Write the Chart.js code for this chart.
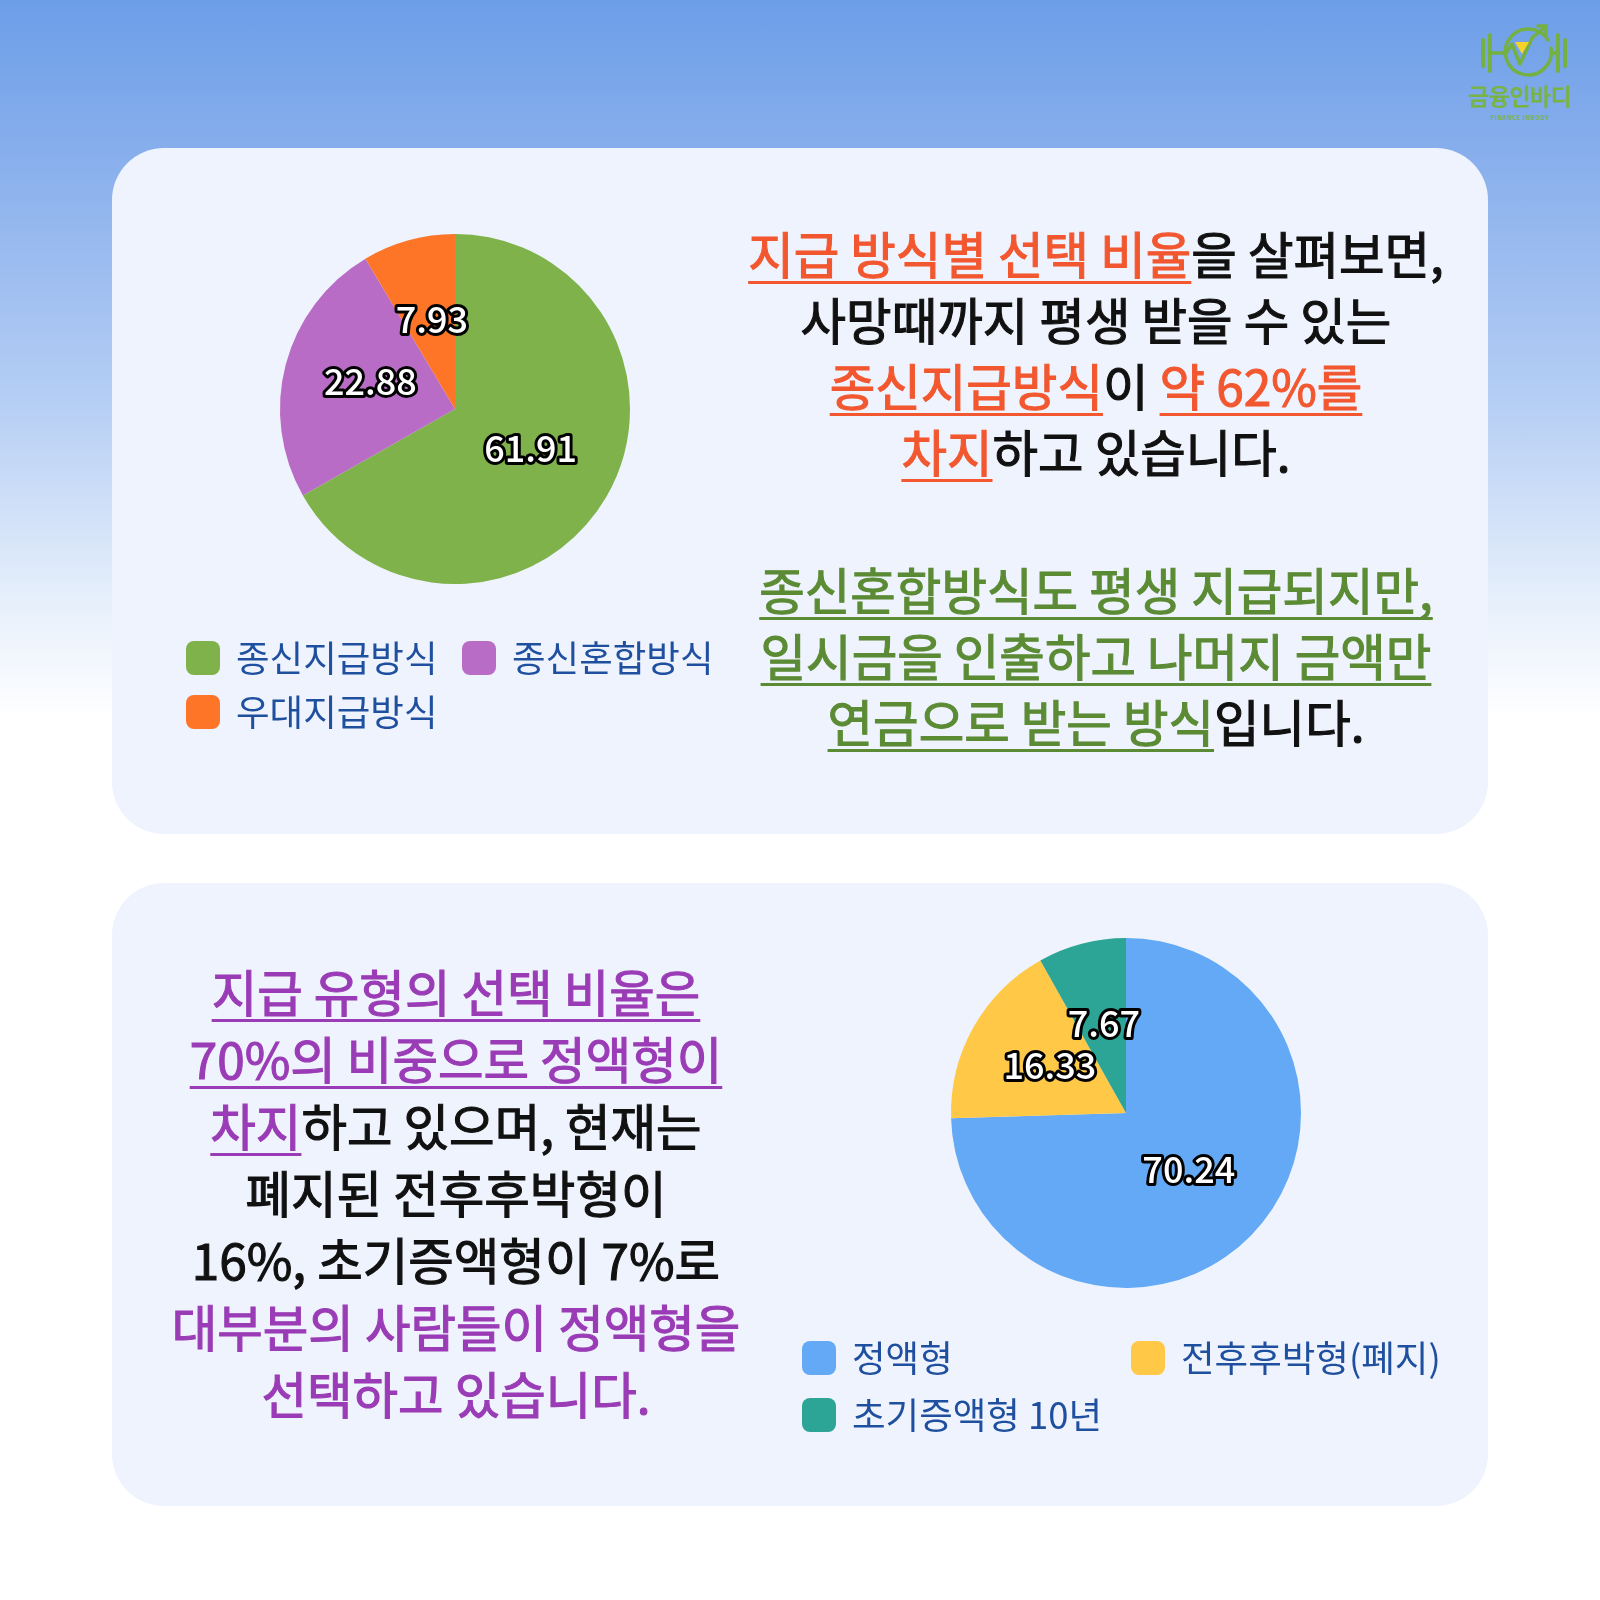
<!DOCTYPE html>
<html><head><meta charset="utf-8">
<script src="https://cdn.jsdelivr.net/npm/chart.js@4.4.1/dist/chart.umd.min.js"></script>
<style>
html,body{margin:0;padding:0;}
body{width:1600px;height:1600px;position:relative;overflow:hidden;
 background:linear-gradient(180deg,#6c9ee8 0px,#87aeec 150px,#b5cef4 400px,#e6effb 600px,#ffffff 720px,#ffffff 1600px);
 font-family:"Noto Sans CJK KR","Noto Sans",sans-serif;}
.card{position:absolute;left:112px;width:1376px;background:#eef3fd;border-radius:52px;}
.txt{position:absolute;text-align:center;font-size:49.5px;line-height:66px;color:#111;white-space:nowrap;font-weight:400;-webkit-text-stroke:1.1px currentColor;transform:translateX(-50%);}
.u{text-decoration:underline;text-decoration-thickness:3px;text-underline-offset:7px;text-decoration-skip-ink:none;}
.or{color:#f2572f}.gr{color:#5b8b34}.pu{color:#9a3cb6}
canvas{position:absolute;}
#logo{position:absolute;left:1460px;top:18px;width:120px;height:110px;}
#logo .n{position:absolute;left:0;top:64px;width:120px;text-align:center;font-size:23px;font-weight:700;color:#78b346;letter-spacing:-0.5px;line-height:26px}
#logo .e{position:absolute;left:0;top:96px;width:120px;text-align:center;font-size:6px;font-weight:700;color:#78b346;letter-spacing:0.6px;line-height:8px}
</style></head>
<body>
<div id="logo">
<svg width="120" height="62" viewBox="0 0 120 62" style="position:absolute;left:0;top:0">
 <g stroke="#74b042" stroke-linecap="round" fill="none">
  <line x1="23" y1="22" x2="23" y2="48" stroke-width="4"/>
  <line x1="30" y1="17" x2="30" y2="53" stroke-width="4"/>
  <line x1="98" y1="17" x2="98" y2="53" stroke-width="4"/>
  <line x1="105" y1="22" x2="105" y2="48" stroke-width="4"/>
  <path d="M88 22 A23 23 0 1 0 91 30" stroke-width="3.5"/>
  <polyline points="30,35 46,35 52,26 60,46 72,20 86,8" stroke-width="3.5" stroke-linejoin="round"/>
  <polyline points="78,8 86,8 86,16" stroke-width="3.5" stroke-linejoin="round"/>
  <line x1="91" y1="35" x2="98" y2="35" stroke-width="3.5"/>
 </g>
 <polygon points="55,24 69,24 62,36" fill="#f5d22a"/>
</svg>
<div class="n">금융인바디</div>
<div class="e">FINANCE INBODY</div>
</div>

<div class="card" style="top:148px;height:686px;"></div>
<div class="card" style="top:883px;height:623px;"></div>

<div class="txt" style="left:1096px;top:220px;"><span class="or u">지급 방식별 선택 비율</span>을 살펴보면,<br>사망때까지 평생 받을 수 있는<br><span class="or u">종신지급방식</span>이 <span class="or u">약 62%를</span><br><span class="or u">차지</span>하고 있습니다.</div>
<div class="txt" style="left:1096px;top:556px;"><span class="gr u">종신혼합방식도 평생 지급되지만,</span><br><span class="gr u">일시금을 인출하고 나머지 금액만</span><br><span class="gr u">연금으로 받는 방식</span>입니다.</div>

<div class="txt" style="left:456px;top:957px;line-height:67px;"><span class="pu u">지급 유형의 선택 비율은</span><br><span class="pu u">70%의 비중으로 정액형이</span><br><span class="pu u">차지</span>하고 있으며, 현재는<br>폐지된 전후후박형이<br>16%, 초기증액형이 7%로<br><span class="pu">대부분의 사람들이 정액형을</span><br><span class="pu">선택하고 있습니다.</span></div>

<canvas id="c1" width="610" height="540" style="left:150px;top:220px;"></canvas>
<canvas id="c2" width="700" height="540" style="left:780px;top:920px;"></canvas>

<script>
const topCategories = ['종신지급방식', '종신혼합방식', '우대지급방식'];
const topValues = [61.91, 22.88, 7.93];
const topColors = ['#7fb24a', '#b86cc5', '#fe7528'];

const bottomCategories = ['정액형', '전후후박형(폐지)', '초기증액형 10년'];
const bottomValues = [70.24, 16.33, 7.67];
const bottomColors = ['#63a9f6', '#ffc947', '#2ca596'];

const sliceLabels = {
  id: 'sliceLabels',
  afterDatasetsDraw(chart, args, o) {
    const ctx = chart.ctx;
    const ds = chart.data.datasets[0];
    const meta = chart.getDatasetMeta(0);
    ctx.save();
    ctx.font = o.font;
    ctx.textAlign = 'center';
    ctx.textBaseline = 'middle';
    ctx.lineJoin = 'round';
    meta.data.forEach((arc, i) => {
      const p = arc.tooltipPosition();
      const t = String(ds.data[i]);
      ctx.lineWidth = o.strokeWidth;
      ctx.strokeStyle = '#000';
      ctx.strokeText(t, p.x, p.y + o.dy);
      ctx.fillStyle = '#fff';
      ctx.fillText(t, p.x, p.y + o.dy);
    });
    ctx.restore();
  }
};

const gridLegend = {
  id: 'gridLegend',
  afterDraw(chart, args, o) {
    const ctx = chart.ctx;
    const labels = chart.data.labels;
    const colors = chart.data.datasets[0].backgroundColor;
    ctx.save();
    ctx.font = o.font;
    ctx.textBaseline = 'middle';
    ctx.textAlign = 'left';
    labels.forEach((lab, i) => {
      const col = i % o.cols.length, row = Math.floor(i / o.cols.length);
      const x = o.cols[col], y = o.rows[row];
      ctx.fillStyle = colors[i];
      ctx.beginPath();
      ctx.roundRect(x, y - o.box / 2, o.box, o.box, o.radius);
      ctx.fill();
      ctx.fillStyle = o.color;
      ctx.fillText(lab, x + o.box + o.gap, y + o.textDy);
    });
    ctx.restore();
  }
};

function makePie(id, labels, values, colors, padding, legendCols, legendRows) {
  return new Chart(document.getElementById(id), {
    type: 'pie',
    data: {
      labels: labels,
      datasets: [{ data: values, backgroundColor: colors, borderWidth: 0 }]
    },
    options: {
      responsive: false,
      animation: false,
      layout: { padding: padding },
      plugins: {
        legend: { display: false },
        tooltip: { enabled: false },
        sliceLabels: { font: '500 36px "Noto Sans CJK KR"', strokeWidth: 6, dy: -5 },
        gridLegend: { cols: legendCols, rows: legendRows, box: 34, radius: 8, gap: 16, textDy: 0,
                      font: '36.5px "Noto Sans CJK KR"', color: '#1f4f9f' }
      }
    },
    plugins: [sliceLabels, gridLegend]
  });
}

makePie('c1', topCategories, topValues, topColors,
  { left: 130, right: 130, top: 14, bottom: 176 }, [36, 312], [438, 492]);
makePie('c2', bottomCategories, bottomValues, bottomColors,
  { left: 171, right: 179, top: 18, bottom: 172 }, [22, 351], [438, 495]);
</script>
</body></html>
